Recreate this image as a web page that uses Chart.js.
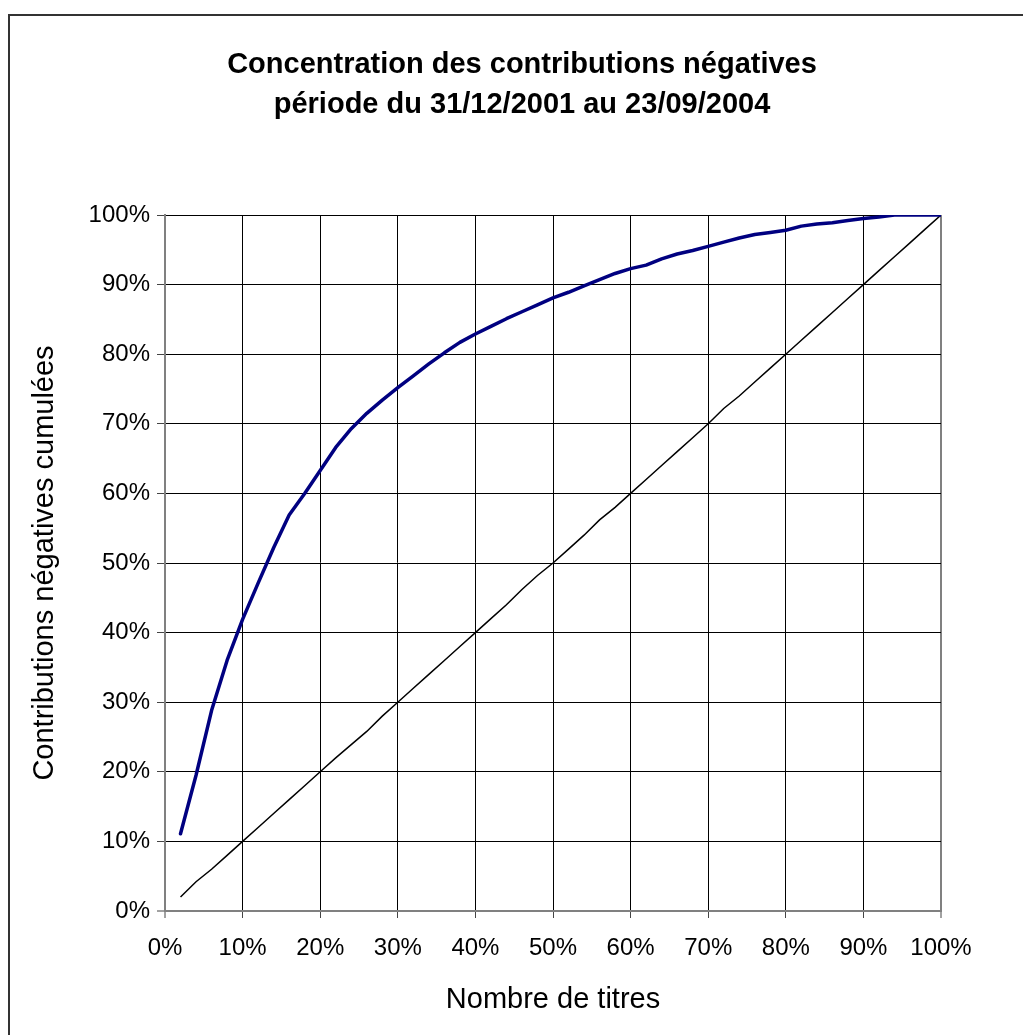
<!DOCTYPE html>
<html lang="fr">
<head>
<meta charset="utf-8">
<title>Concentration des contributions négatives</title>
<script src="https://cdn.jsdelivr.net/npm/chart.js@4/dist/chart.umd.min.js"></script>
<style>
  html, body { margin: 0; padding: 0; background: #fff; overflow: hidden; }
  #frame {
    position: absolute; left: 8px; top: 14px; width: 1200px; height: 1200px;
    border-left: 2px solid #333; border-top: 2px solid #333; box-sizing: border-box;
  }
  #wrap { position: absolute; left: 0; top: 0; width: 1023px; height: 1035px; }
</style>
</head>
<body>
<div id="frame"></div>
<div id="wrap"><canvas id="chart" width="1023" height="1035"></canvas></div>
<script>
// Share of securities (x, %) and cumulated share of negative contributions (y, %)
const nombreTitres = [2, 4, 6, 8, 10, 12, 14, 16, 18, 20, 22, 24, 26, 28, 30, 32, 34, 36, 38, 40,
  42, 44, 46, 48, 50, 52, 54, 56, 58, 60, 62, 64, 66, 68, 70, 72, 74, 76, 78, 80,
  82, 84, 86, 88, 90, 92, 94, 96, 98, 100];

const contributionsCumulees = [11.1, 19.5, 28.8, 36.0, 41.9, 47.1, 52.2, 56.9, 60.0, 63.3,
  66.6, 69.3, 71.5, 73.4, 75.2, 76.9, 78.6, 80.2, 81.7, 82.9,
  84.0, 85.1, 86.1, 87.1, 88.1, 88.9, 89.8, 90.7, 91.6, 92.3,
  92.8, 93.7, 94.4, 94.9, 95.5, 96.1, 96.7, 97.2, 97.5, 97.8,
  98.4, 98.7, 98.9, 99.2, 99.5, 99.7, 100, 100, 100, 100];

const repartitionUniforme = [2, 4.2, 6, 8, 10, 12, 14, 16, 18, 20,
  22, 23.9, 25.8, 28, 30, 32, 34, 36, 38, 40,
  42, 44, 46.2, 48.2, 50, 52, 54, 56.2, 58, 60,
  62, 64, 66, 68, 70, 72.2, 74, 76, 78, 80,
  82, 84, 86, 88, 90, 92, 94, 96, 98, 100];

const tickValues = [0, 10, 20, 30, 40, 50, 60, 70, 80, 90, 100];

const titre = ['Concentration des contributions négatives', 'période du 31/12/2001 au 23/09/2004'];
const titreX = 'Nombre de titres';
const titreY = 'Contributions négatives cumulées';

const toPoints = (ys) => nombreTitres.map((x, i) => ({ x: x, y: ys[i] }));
const pct = (v) => v + '%';

Chart.defaults.font.family = '"Liberation Sans", Arial, sans-serif';
Chart.defaults.color = '#000';

const AXIS_GRAY = '#808080';

new Chart(document.getElementById('chart'), {
  type: 'line',
  data: {
    datasets: [
      {
        label: 'Contributions cumulées',
        data: toPoints(contributionsCumulees),
        borderColor: '#000080',
        borderWidth: 3.5,
        borderCapStyle: 'round',
        borderJoinStyle: 'round',
        pointRadius: 0,
        tension: 0,
        fill: false
      },
      {
        label: 'Répartition uniforme',
        data: toPoints(repartitionUniforme),
        borderColor: '#000',
        borderWidth: 1.5,
        pointRadius: 0,
        tension: 0,
        fill: false
      }
    ]
  },
  options: {
    responsive: false,
    animation: false,
    events: [],
    layout: { padding: { left: 85, right: 64, top: 0, bottom: 0 } },
    plugins: {
      legend: { display: false },
      tooltip: { enabled: false },
      title: {
        display: true,
        text: titre,
        color: '#000',
        font: { size: 29, weight: 'bold', lineHeight: 40 / 29 },
        padding: { top: 45, bottom: 90 }
      }
    },
    scales: {
      x: {
        type: 'linear',
        min: 0,
        max: 100,
        afterBuildTicks: (scale) => { scale.ticks = tickValues.map(v => ({ value: v })); },
        afterFit: (scale) => { scale.height = 124; },
        ticks: { callback: pct, font: { size: 24 }, padding: 16, maxRotation: 0, autoSkip: false },
        grid: {
          color: (ctx) => (ctx.index === 0 || ctx.index === tickValues.length - 1) ? AXIS_GRAY : '#000',
          lineWidth: (ctx) => (ctx.index === 0 || ctx.index === tickValues.length - 1) ? 2 : 1,
          tickColor: '#444',
          tickLength: 7,
          tickWidth: 1
        },
        border: { display: true, color: AXIS_GRAY, width: 2 },
        title: {
          display: true,
          text: titreX,
          font: { size: 29 },
          padding: { top: 0, bottom: 17.6 }
        }
      },
      y: {
        type: 'linear',
        min: 0,
        max: 100,
        afterBuildTicks: (scale) => { scale.ticks = tickValues.map(v => ({ value: v })); },
        afterFit: (scale) => { scale.width = 80; },
        ticks: { callback: pct, font: { size: 24 }, padding: 7, autoSkip: false },
        grid: {
          color: (ctx) => ctx.index === 0 ? AXIS_GRAY : '#000',
          lineWidth: (ctx) => ctx.index === 0 ? 2 : 1,
          tickColor: '#444',
          tickLength: 8,
          tickWidth: 1
        },
        border: { display: true, color: AXIS_GRAY, width: 2 },
        title: {
          display: true,
          text: titreY,
          font: { size: 29 },
          padding: { top: -57.4, bottom: 0 }
        }
      },
      // empty right-hand margin so the plot ends at 100% while the title stays centred
      marge: {
        type: 'linear',
        position: 'right',
        min: 0,
        max: 100,
        afterFit: (scale) => { scale.width = 18; },
        ticks: { display: false },
        grid: { display: false, drawTicks: false },
        border: { display: false },
        title: { display: false }
      }
    }
  }
});
</script>
</body>
</html>
